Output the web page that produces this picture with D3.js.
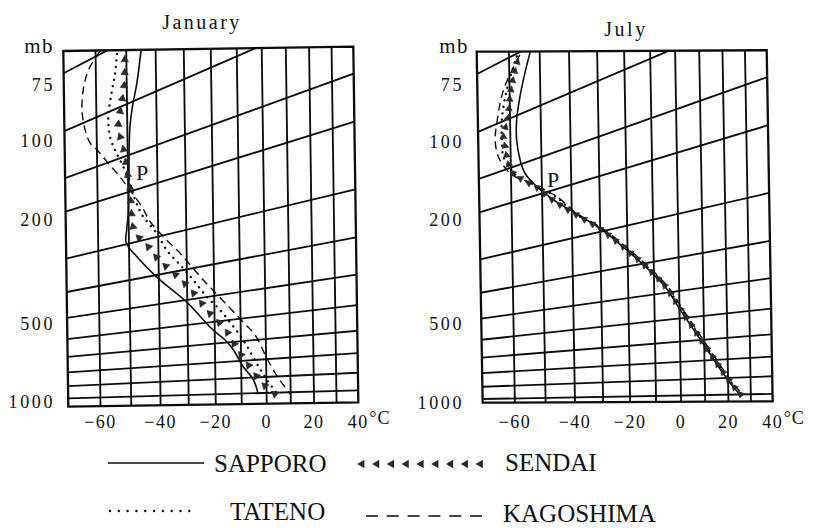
<!DOCTYPE html>
<html><head><meta charset="utf-8">
<script src="https://cdn.jsdelivr.net/npm/d3@7"></script>
<style>
body{margin:0;background:#fff}
svg{display:block}
text{font-family:"Liberation Serif","Times New Roman",serif;fill:#111}
</style>
</head><body>
<svg id="c" width="813" height="528"></svg>
<script>
// ---------------- data ----------------
const isotherms = [-70,-60,-50,-40,-30,-20,-10,0,10,20,30,40];
const isobars   = [75,100,150,200,300,400,500,600,700,800,900,1000];
const xTickValues = [-60,-40,-20,0,20,40];
const xTickLabels = ["\u221260","\u221240","\u221220","0","20","40"];
const yTickValues = [75,100,200,500,1000];
const yTickLabels = ["75","100","200","500","1000"];
const stations = ["SAPPORO","SENDAI","TATENO","KAGOSHIMA"];
const panelTitles = ["January","July"];

// [pressure mb, temperature °C]
const janSapporo = [[81,-45.0],[93,-46.6],[104,-48.2],[120,-49.1],[144,-49.5],[182,-49.7],[236,-50.1],[268,-50.7],[297,-50.9],[337,-47.4],[411,-40.2],[509,-30.1],[630,-21.0],[687,-16.1],[740,-12.9],[823,-9.7],[915,-5.2],[1000,-3.5]];
const janSendai = [[80,-50.5],[85,-50.6],[92,-50.9],[98,-51.7],[108,-52.6],[119,-53.0],[132,-51.9],[150,-50.9],[168,-50.4],[193,-49.4],[220,-49.1],[254,-48.8],[279,-47.9],[318,-43.5],[353,-40.4],[389,-36.4],[429,-32.1],[467,-28.6],[511,-25.3],[556,-22.3],[601,-18.5],[649,-15.4],[703,-12.9],[760,-10.4],[826,-7.1],[896,-3.8],[955,-0.5],[1010,3.5]];
const janTateno = [[78,-53.1],[85,-53.8],[92,-55.0],[104,-56.2],[123,-55.7],[138,-54.2],[162,-51.5],[187,-49.4],[216,-47.7],[247,-45.4],[292,-40.5],[337,-37.1],[384,-32.4],[436,-27.7],[499,-22.8],[555,-17.9],[630,-12.8],[711,-8.3],[819,-3.8],[918,0.2],[1005,4.2]];
const janKagoshima = [[74,-58.6],[78.5,-62.3],[85,-64.0],[94,-64.5],[107,-63.6],[121,-62.1],[131,-59.9],[151,-56.4],[174,-52.6],[198,-49.4],[231,-45.5],[264,-42.7],[308,-37.6],[347,-32.9],[389,-28.8],[435,-24.6],[475,-20.9],[544,-14.8],[615,-9.0],[677,-4.3],[795,0.3],[911,5.0],[1010,9.8]];

const julSapporo = [[76.7,-53.1],[83.7,-55.0],[92.2,-56.7],[103.7,-57.9],[121.9,-58.0],[144.8,-57.0],[163.3,-55.5],[180.8,-52.8],[213,-46.8],[249,-39.0],[294,-29.8],[359,-19.9],[415,-12.6],[485,-5.2],[561,-0.1],[646,5.3],[740,10.8],[845,16.4],[942,21.6],[1003,25.3]];
const julSendai = [[76.9,-57.0],[82.9,-58.7],[90.3,-59.9],[98.9,-60.6],[113.6,-62.2],[124,-61.7],[143.7,-60.8],[158,-59.3],[171.6,-56.1],[187,-52.0],[213,-47.0],[249,-39.4],[294,-30.0],[359,-19.8],[415,-12.4],[485,-5.0],[561,0.2],[646,5.6],[740,11.1],[845,16.7],[942,21.9],[1003,25.7]];
const julTateno = [[76,-57.5],[86.9,-60.9],[99.1,-62.6],[116,-62.7],[134,-62.3],[150.5,-60.2],[163,-58.3],[172,-55.8],[187,-51.5],[212,-45.3],[249,-39.1],[294,-29.7],[359,-19.5],[415,-12.1],[485,-4.7],[561,0.5],[646,5.9],[740,11.4],[845,17.0],[942,22.2],[1003,26.0]];
const julKagoshima = [[76,-56.5],[86.2,-61.9],[99.7,-64.2],[113.6,-64.8],[132,-63.9],[151,-61.3],[163.4,-58.7],[171.6,-56.1],[187.3,-51.7],[212,-45.0],[249,-38.6],[294,-29.2],[359,-19.0],[415,-11.6],[485,-4.2],[561,1.0],[646,6.4],[740,11.9],[845,17.5],[942,22.7],[1003,26.5]];

// ---------------- diagram geometry ----------------
const svg = d3.select("#c");
const W = 290, HC = 355.7, FAN = 0.439;
// abscissa: logarithm of absolute temperature
const tScale = d3.scaleLog().domain([203.15, 313.15]).range([0, W]);
// height of an isobar above the base line at the left edge
const pScale = d3.scaleLog().domain([1075, 100, 75]).range([0, 275.5, 333.4]);
const uOf = T => tScale(T + 273.15);
const vOf = (u, p) => HC - pScale(p) * (1 + FAN * u / W);

const panels = [
  {id:"jan", title:panelTitles[0], tx:202, ty:29, X0:63.3, Y0:51, sx:0.0141, sy:-0.0148, H:355.7,
   labR:55, mbR:54, Pxy:[136,180], spacing:13,
   data:[janSapporo, janSendai, janTateno, janKagoshima]},
  {id:"jul", title:panelTitles[1], tx:626, ty:36, X0:476.7, Y0:51.7, sx:0.017, sy:-0.005, H:351,
   labR:464, mbR:469, Pxy:[547,187], spacing:9.5,
   data:[julSapporo, julSendai, julTateno, julKagoshima]}
];
function scr(P,u,v){ return [P.X0 + u + P.sx*v, P.Y0 + P.sy*u + v]; }

const INK = "#0d0d0d";

panels.forEach(P => {
  const corners = [scr(P,0,0), scr(P,W,0), scr(P,W,P.H), scr(P,0,P.H)];
  svg.append("clipPath").attr("id","clip-"+P.id)
    .append("polygon").attr("points", corners.map(c=>c.join(",")).join(" "));
  const g = svg.append("g").attr("clip-path","url(#clip-"+P.id+")");

  // isotherms
  isotherms.slice(1,-1).forEach(T => {
    const u = uOf(T), a = scr(P,u,0), b = scr(P,u,P.H);
    g.append("line").attr("x1",a[0]).attr("y1",a[1]).attr("x2",b[0]).attr("y2",b[1])
      .attr("stroke",INK).attr("stroke-width",1.85);
  });
  // isobars
  isobars.forEach(p => {
    const a = scr(P,0,vOf(0,p)), b = scr(P,W,vOf(W,p));
    g.append("line").attr("x1",a[0]).attr("y1",a[1]).attr("x2",b[0]).attr("y2",b[1])
      .attr("stroke",INK).attr("stroke-width",1.85);
  });

  const pt = d => { const u = uOf(d[1]); return scr(P,u,vOf(u,d[0])); };
  const line = d3.line().x(d=>pt(d)[0]).y(d=>pt(d)[1]).curve(d3.curveCatmullRom.alpha(0.5));
  const [sap, sen, tat, kag] = P.data;

  g.append("path").attr("d",line(kag)).attr("fill","none").attr("stroke",INK)
    .attr("stroke-width",1.4).attr("stroke-dasharray","8 5");
  g.append("path").attr("d",line(tat)).attr("fill","none").attr("stroke",INK)
    .attr("stroke-width",2.4).attr("stroke-linecap","round").attr("stroke-dasharray","0.01 6.5");
  g.append("path").attr("d",line(sap)).attr("fill","none").attr("stroke",INK)
    .attr("stroke-width",1.6);

  // Sendai: chain of triangles along its curve
  const guide = g.append("path").attr("d",line(sen)).attr("fill","none").attr("stroke","none");
  const node = guide.node(), L = node.getTotalLength();
  const tri = d3.symbol().type(d3.symbolTriangle).size(P.id==="jan"?24:20);
  for (let s = 4; s < L; s += P.spacing) {
    const a = node.getPointAtLength(s), b = node.getPointAtLength(Math.min(L, s+1));
    const ang = Math.atan2(b.y-a.y, b.x-a.x)*180/Math.PI;
    g.append("path").attr("d",tri())
      .attr("transform",`translate(${a.x},${a.y}) rotate(${ang-90})`)
      .attr("fill","#2a2a2a").attr("stroke","#2a2a2a").attr("stroke-width",0.6);
  }

  // frame
  svg.append("polygon").attr("points", corners.map(c=>c.join(",")).join(" "))
    .attr("fill","none").attr("stroke",INK).attr("stroke-width",2.3);

  // title
  svg.append("text").attr("x",P.tx).attr("y",P.ty).attr("text-anchor","middle")
    .attr("font-size",20).attr("letter-spacing",2.5).text(P.title);
  // mb
  svg.append("text").attr("x",P.mbR).attr("y",53).attr("text-anchor","end")
    .attr("font-size",21).attr("letter-spacing",1.5).text("mb");
  // pressure labels, set against each isobar extended a little left of the frame
  yTickValues.forEach((p,i) => {
    const y = scr(P,-15,vOf(-15,p))[1] + 9.5;
    svg.append("text").attr("x",P.labR).attr("y",y).attr("text-anchor","end")
      .attr("font-size",18).attr("letter-spacing",2.6).text(yTickLabels[i]);
  });
  // temperature labels
  xTickValues.forEach((T,i) => {
    const x = scr(P,uOf(T),P.H)[0];
    svg.append("text").attr("x",x).attr("y",428).attr("text-anchor","middle")
      .attr("font-size",18).attr("letter-spacing",1.5).text(xTickLabels[i]);
    if (i === xTickValues.length-1) {
      svg.append("text").attr("x",x+11).attr("y",424).attr("font-size",18)
        .attr("letter-spacing",1).text("\u00B0C");
    }
  });
  // tropopause mark
  svg.append("text").attr("x",P.Pxy[0]).attr("y",P.Pxy[1]).attr("font-size",22).text("P");
});

// ---------------- legend ----------------
const lg = svg.append("g");
const ls = 25;
// SAPPORO
lg.append("line").attr("x1",108).attr("x2",204).attr("y1",463).attr("y2",463)
  .attr("stroke",INK).attr("stroke-width",1.6);
lg.append("text").attr("x",214).attr("y",471.5).attr("font-size",ls).text(stations[0]);
// SENDAI
const ltri = d3.symbol().type(d3.symbolTriangle).size(30);
d3.range(9).forEach(i => {
  lg.append("path").attr("d",ltri())
    .attr("transform",`translate(${362+i*14.8},464) rotate(-90)`)
    .attr("fill","#2a2a2a");
});
lg.append("text").attr("x",505).attr("y",470.5).attr("font-size",ls).text(stations[1]);
// TATENO
lg.append("line").attr("x1",110).attr("x2",198).attr("y1",511).attr("y2",511)
  .attr("stroke",INK).attr("stroke-width",2.4).attr("stroke-linecap","round")
  .attr("stroke-dasharray","0.01 8.8");
lg.append("text").attr("x",230).attr("y",519.5).attr("font-size",ls).text(stations[2]);
// KAGOSHIMA
lg.append("line").attr("x1",366).attr("x2",482).attr("y1",516).attr("y2",516)
  .attr("stroke",INK).attr("stroke-width",1.6).attr("stroke-dasharray","12 8.8");
lg.append("text").attr("x",503).attr("y",522).attr("font-size",ls).text(stations[3]);
</script>
</body></html>
